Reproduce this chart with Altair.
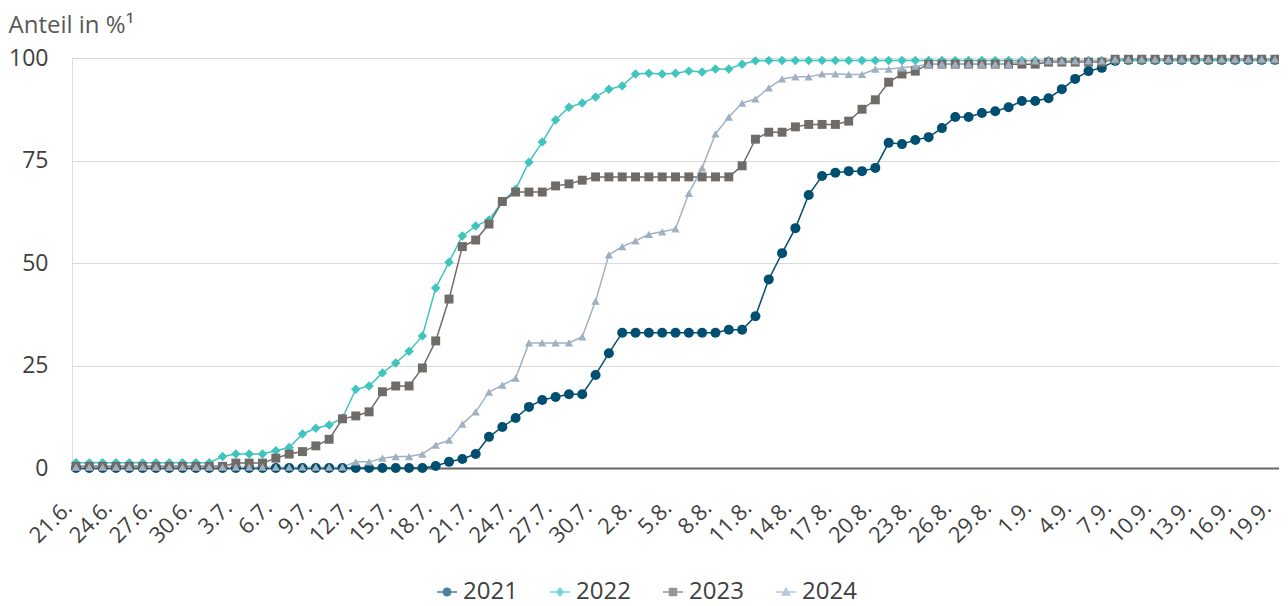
import altair as alt
import pandas as pd

# Categories: daily dates 21.6. – 19.9.
dates = [f"{d.day}.{d.month}." for d in pd.date_range("2021-06-21", "2021-09-19")]
tick_labels = dates[::3]
years = ["2021", "2022", "2023", "2024"]
colors = ["#004e70", "#3fc4be", "#6f6b68", "#9fb1c1"]

y2021 = [0] * 27 + [
    0.5, 1.5, 2.2, 3.4, 7.6, 10, 12.2, 14.9, 16.6, 17.3, 18, 18, 22.7, 28,
    33, 33, 33, 33, 33, 33, 33, 33, 33.7, 33.7, 37, 46, 52.4, 58.5, 66.6, 71.2,
    72, 72.4, 72.4, 73.2, 79.3, 79, 80, 80.7, 82.9, 85.6, 85.6, 86.6, 87, 88,
    89.5, 89.5, 90.2, 92.4, 94.9, 96.8, 97.6, 99.3] + [99.5] * 12

y2022 = [1.3] * 11 + [
    2.8, 3.4, 3.4, 3.4, 4.2, 5, 8.3, 9.7, 10.5, 12.2, 19.2, 20, 23.2, 25.6,
    28.5, 32.2, 43.9, 50.2, 56.6, 59, 60.5, 65, 68, 74.6, 79.5, 84.9, 88, 89,
    90.5, 92.4, 93.2, 96.1, 96.3, 96.1, 96.3, 96.8, 96.6, 97.3, 97.3, 98.5,
    99.3] + [99.4] * 39

y2023 = [0.4] * 12 + [
    1.2, 1.2, 1.2, 2.4, 3.4, 4, 5.4, 7, 12, 12.7, 13.7, 18.6, 20, 20, 24.4,
    31, 41.2, 54, 55.6, 59.5, 65, 67.3, 67.3, 67.3, 68.8, 69.3, 70.2, 71] + [71] * 10 + [
    73.7, 80.2, 81.9, 81.9, 83.2, 83.8, 83.8, 83.8, 84.6, 87.5, 89.8, 94.1,
    96.1, 96.8, 98.5] + [98.5] * 8 + [99] * 5 + [99.7] * 13

y2024 = [0.2] * 21 + [
    1.5, 1.5, 2.4, 2.8, 2.8, 3.4, 5.6, 6.8, 10.7, 13.7, 18.5, 20.2, 21.9,
    30.5, 30.5, 30.5, 30.5, 32, 40.7, 52, 54, 55.4, 57, 57.6, 58.3, 67, 73.2,
    81.5, 85.6, 89, 90, 92.7, 94.9, 95.4, 95.4, 96.1, 96.1, 96, 96, 97.3,
    97.3, 97.6, 98] + [98.5] * 7 + [99.3] * 7 + [99.7] * 13

series = [y2021, y2022, y2023, y2024]
rows = []
for yr, vals in zip(years, series):
    for d, v in zip(dates, vals):
        rows.append({"Datum": d, "Jahr": yr, "Anteil": v})
df = pd.DataFrame(rows)
legend_df = pd.DataFrame({"Jahr": years})

FONT = "Open Sans"
TXT = "#404040"

# legend symbols: marker with a short line through it
legend_paths = [
    "M-2,0H2M0.75,0A0.75,0.75,0,1,1,-0.75,0A0.75,0.75,0,1,1,0.75,0Z",
    "M-2,0H2M0,-0.8L0.6,0L0,0.8L-0.6,0Z",
    "M-2,0H2M-0.7,-0.7H0.7V0.7H-0.7Z",
    "M-2,0H2M0,-0.75L0.75,0.6H-0.75Z",
]

x_enc = alt.X(
    "Datum:O",
    sort=dates,
    scale=alt.Scale(type="point", padding=0.3),
    axis=alt.Axis(
        values=tick_labels, title=None, labelAngle=-45, labelAlign="right",
        labelBaseline="middle", labelPadding=36, labelOffset=-8, labelOverlap=False,
        labelFontSize=22, labelFont=FONT, labelColor=TXT,
        ticks=False, grid=False, domainColor="#666666", domainWidth=2,
    ),
)
y_enc = alt.Y(
    "Anteil:Q",
    scale=alt.Scale(domain=[0, 100], nice=False),
    axis=alt.Axis(
        values=[0, 25, 50, 75, 100], title="Anteil in %¹", titleAngle=0,
        titleAlign="left", titleBaseline="alphabetic", titleX=-64, titleY=-26,
        titleFontSize=24, titleFont=FONT, titleFontWeight="normal", titleColor="#595959",
        domain=False, ticks=False, grid=True, gridColor="#d9d9d9",
        labelFontSize=23, labelFont=FONT, labelColor=TXT, labelPadding=24,
    ),
)
color_scale = alt.Scale(domain=years, range=colors)

base = alt.Chart(df)
lines = base.mark_line(strokeWidth=1.5).encode(
    x=x_enc, y=y_enc,
    color=alt.Color("Jahr:N", scale=color_scale, legend=None),
    detail="Jahr:N",
)
points = base.mark_point(filled=True, opacity=1).encode(
    x=x_enc, y=y_enc,
    color=alt.Color("Jahr:N", scale=color_scale, legend=None),
    shape=alt.Shape("Jahr:N", scale=alt.Scale(domain=years, range=["circle", "diamond", "square", "triangle-up"]), legend=None),
    size=alt.Size("Jahr:O", scale=alt.Scale(domain=years, range=[100, 70, 130, 90]), legend=None),
)

legend = alt.Legend(
    title=None, orient="none", direction="horizontal", legendX=363, legendY=522,
    labelFontSize=24, labelFont=FONT, labelColor=TXT, symbolSize=100,
    symbolStrokeWidth=1.5, labelOffset=4, columnPadding=29,
)
legend_layer = alt.Chart(legend_df).mark_point(filled=True, clip=True, strokeWidth=1.5).encode(
    x=alt.value(-1000), y=alt.value(-1000),
    color=alt.Color("Jahr:N", scale=alt.Scale(domain=years, range=colors), legend=legend),
    stroke=alt.Stroke("Jahr:N", scale=alt.Scale(domain=years, range=colors), legend=legend),
    shape=alt.Shape("Jahr:N", scale=alt.Scale(domain=years, range=legend_paths), legend=legend),
)

chart = alt.layer(lines, points, legend_layer).resolve_scale(
    color="independent", shape="independent", stroke="independent"
).properties(
    width=1207, height=410,
    autosize=alt.AutoSizeParams(type="none"),
    padding={"left": 64, "top": 50, "right": 0, "bottom": 140},
).configure_view(stroke=None).configure(font=FONT)

chart.save("out.html", embed_options={"renderer": "svg", "actions": False})
